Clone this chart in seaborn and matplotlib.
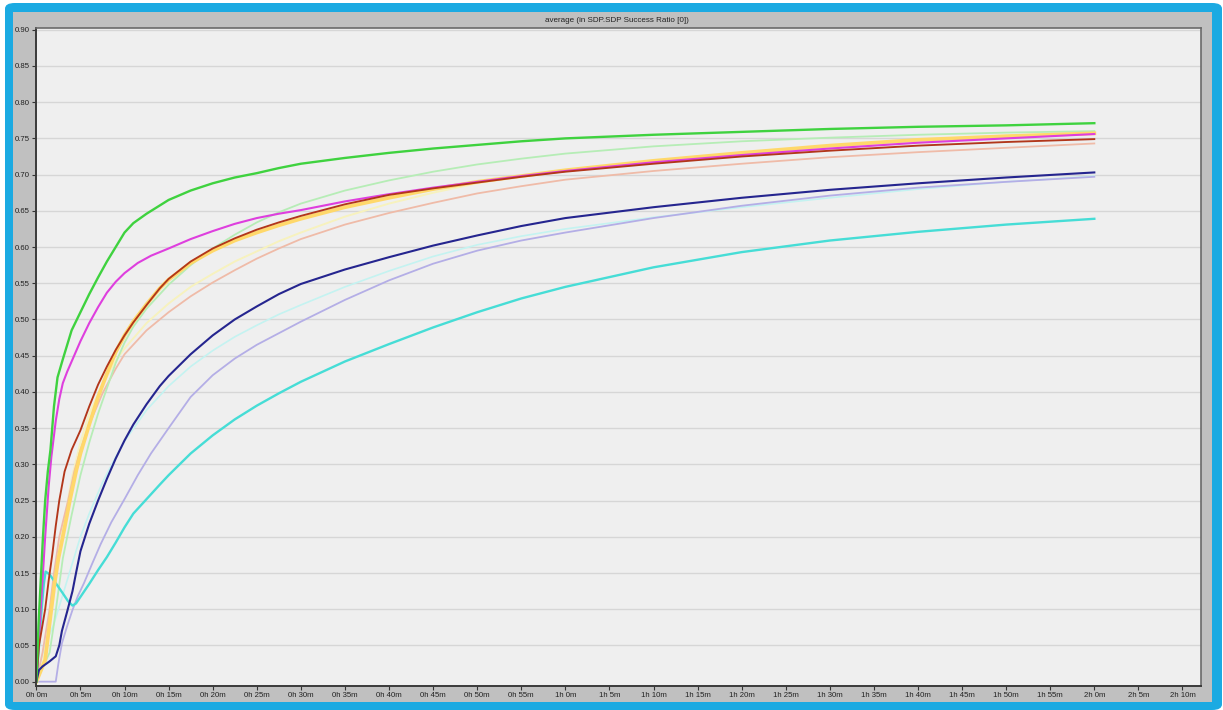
import numpy as np
import pandas as pd
import matplotlib
matplotlib.use("Agg")
import matplotlib.pyplot as plt
from matplotlib.patches import FancyBboxPatch, Rectangle
import seaborn as sns

# ---------------- data (minutes, ratio) ----------------
green_t = [0, 0.25, 0.5, 0.75, 1, 1.3, 1.6, 2, 2.4, 3, 3.5, 4, 5, 6, 7, 8, 9, 10, 11, 12.5, 15, 17.5, 20, 22.5, 25, 27.5, 30, 35, 40, 45, 50, 55, 60, 70, 80, 90, 100, 110, 120]
green_v = [0, 0.08, 0.14, 0.20, 0.25, 0.29, 0.32, 0.38, 0.42, 0.445, 0.465, 0.485, 0.51, 0.535, 0.558, 0.58, 0.60, 0.62, 0.633, 0.646, 0.665, 0.678, 0.688, 0.696, 0.702, 0.709, 0.715, 0.723, 0.730, 0.736, 0.741, 0.746, 0.750, 0.755, 0.759, 0.763, 0.766, 0.768, 0.771]

magenta_t = [0, 0.5, 1, 1.4, 1.7, 2.2, 2.6, 3, 3.5, 4, 5, 6, 7, 8, 9, 10, 11.5, 13, 15, 17.5, 20, 22.5, 25, 27.5, 30, 35, 40, 45, 50, 55, 60, 70, 80, 90, 100, 110, 120]
magenta_v = [0, 0.10, 0.20, 0.27, 0.31, 0.36, 0.39, 0.412, 0.428, 0.442, 0.47, 0.495, 0.517, 0.537, 0.552, 0.564, 0.578, 0.588, 0.598, 0.611, 0.622, 0.632, 0.640, 0.646, 0.651, 0.663, 0.673, 0.682, 0.690, 0.698, 0.705, 0.717, 0.727, 0.736, 0.744, 0.750, 0.756]

orange_t = [0, 1, 1.3, 1.6, 2, 2.5, 3, 3.8, 4.5, 5, 6, 7, 8, 9, 10, 11, 12.5, 14, 15, 17.5, 20, 22.5, 25, 27.5, 30, 35, 40, 45, 50, 55, 60, 70, 80, 90, 100, 110, 120]
orange_v = [0, 0.03, 0.06, 0.09, 0.13, 0.17, 0.20, 0.25, 0.29, 0.315, 0.355, 0.393, 0.425, 0.455, 0.478, 0.497, 0.521, 0.543, 0.555, 0.578, 0.595, 0.609, 0.620, 0.630, 0.639, 0.655, 0.668, 0.680, 0.690, 0.698, 0.706, 0.719, 0.730, 0.740, 0.748, 0.753, 0.757]

red_t = [0, 0.3, 1, 1.4, 1.8, 2.2, 2.6, 3.2, 4, 5, 6, 7, 8, 9, 10, 11, 12.5, 14, 15, 17.5, 20, 22.5, 25, 27.5, 30, 35, 40, 45, 50, 55, 60, 70, 80, 90, 100, 110, 120]
red_v = [0, 0.05, 0.10, 0.14, 0.175, 0.215, 0.25, 0.29, 0.32, 0.347, 0.38, 0.41, 0.435, 0.458, 0.478, 0.496, 0.52, 0.543, 0.556, 0.58, 0.598, 0.612, 0.624, 0.634, 0.643, 0.659, 0.672, 0.681, 0.689, 0.697, 0.704, 0.715, 0.725, 0.733, 0.740, 0.745, 0.749]

palegreen_t = [0, 1.5, 2, 2.5, 3, 3.5, 4, 5, 6, 7, 8, 9, 10, 11, 12.5, 15, 17.5, 20, 22.5, 25, 27.5, 30, 35, 40, 45, 50, 55, 60, 70, 80, 90, 100, 110, 120]
palegreen_v = [0, 0.04, 0.08, 0.125, 0.17, 0.20, 0.23, 0.285, 0.33, 0.37, 0.405, 0.44, 0.468, 0.49, 0.515, 0.548, 0.575, 0.598, 0.617, 0.634, 0.648, 0.660, 0.678, 0.692, 0.704, 0.714, 0.722, 0.729, 0.739, 0.746, 0.751, 0.755, 0.758, 0.760]

paleyellow_t = [0, 0.8, 1.5, 2, 2.5, 3, 4, 5, 6, 7.5, 9, 10, 12.5, 15, 17.5, 20, 22.5, 25, 27.5, 30, 35, 40, 45, 50, 55, 60, 70, 80, 90, 100, 110, 120]
paleyellow_v = [0, 0.03, 0.08, 0.12, 0.17, 0.21, 0.28, 0.33, 0.37, 0.41, 0.443, 0.46, 0.495, 0.522, 0.545, 0.563, 0.58, 0.594, 0.608, 0.62, 0.642, 0.660, 0.675, 0.688, 0.698, 0.706, 0.719, 0.730, 0.740, 0.748, 0.754, 0.758]

salmon_t = [0, 0.7, 1.5, 2, 2.6, 3.6, 4.3, 5, 6, 7.5, 9, 10, 12.5, 15, 17.5, 20, 22.5, 25, 27.5, 30, 35, 40, 45, 50, 55, 60, 70, 80, 90, 100, 110, 120]
salmon_v = [0, 0.04, 0.10, 0.15, 0.20, 0.25, 0.29, 0.32, 0.355, 0.398, 0.432, 0.452, 0.485, 0.51, 0.532, 0.551, 0.568, 0.584, 0.598, 0.611, 0.631, 0.647, 0.661, 0.674, 0.684, 0.693, 0.705, 0.715, 0.724, 0.731, 0.737, 0.743]

navy_t = [0, 0.3, 0.7, 1.5, 2.2, 2.6, 2.9, 3.5, 4.1, 4.5, 5, 6, 7, 8, 9, 10, 11, 12.5, 14, 15, 17.5, 20, 22.5, 25, 27.5, 30, 35, 40, 45, 50, 55, 60, 70, 80, 90, 100, 110, 120]
navy_v = [0, 0.016, 0.021, 0.028, 0.035, 0.05, 0.07, 0.097, 0.125, 0.15, 0.18, 0.218, 0.25, 0.28, 0.308, 0.333, 0.355, 0.383, 0.408, 0.422, 0.452, 0.478, 0.50, 0.518, 0.535, 0.549, 0.569, 0.586, 0.602, 0.616, 0.629, 0.640, 0.655, 0.668, 0.679, 0.688, 0.696, 0.703]

palecyan_t = [0, 0.5, 1, 2, 3, 4, 5, 6, 7.5, 9, 10, 12.5, 15, 17.5, 20, 22.5, 25, 27.5, 30, 35, 40, 45, 50, 55, 60, 70, 80, 90, 100, 110, 120]
palecyan_v = [0, 0.03, 0.05, 0.08, 0.12, 0.16, 0.20, 0.232, 0.275, 0.31, 0.332, 0.375, 0.408, 0.435, 0.457, 0.476, 0.492, 0.507, 0.52, 0.545, 0.567, 0.587, 0.603, 0.615, 0.625, 0.641, 0.655, 0.668, 0.680, 0.690, 0.698]

lavender_t = [0, 2.2, 2.5, 2.9, 3.5, 4.1, 4.7, 5.4, 6.3, 7.3, 8.5, 10, 11.5, 13, 15, 17.5, 20, 22.5, 25, 27.5, 30, 35, 40, 45, 50, 55, 60, 70, 80, 90, 100, 110, 120]
lavender_v = [0, 0, 0.025, 0.053, 0.077, 0.099, 0.118, 0.136, 0.162, 0.19, 0.22, 0.252, 0.285, 0.315, 0.35, 0.393, 0.423, 0.446, 0.465, 0.481, 0.497, 0.527, 0.554, 0.577, 0.595, 0.609, 0.620, 0.640, 0.657, 0.671, 0.682, 0.690, 0.697]

turq_t = [0, 0.3, 0.6, 0.85, 1.05, 1.5, 2.2, 3, 3.6, 4.1, 4.5, 5, 6, 7, 8, 9, 10, 11, 12.5, 14, 15, 17.5, 20, 22.5, 25, 27.5, 30, 35, 40, 45, 50, 55, 60, 70, 80, 90, 100, 110, 120]
turq_v = [0, 0.05, 0.10, 0.135, 0.152, 0.148, 0.136, 0.122, 0.111, 0.105, 0.108, 0.117, 0.135, 0.154, 0.172, 0.192, 0.213, 0.232, 0.252, 0.272, 0.285, 0.315, 0.34, 0.362, 0.381, 0.398, 0.414, 0.442, 0.466, 0.489, 0.51, 0.529, 0.545, 0.572, 0.593, 0.609, 0.621, 0.631, 0.639]

x_ticks_min = list(range(0, 135, 5))
x_tick_labels = [f"{m // 60}h {m % 60}m" for m in x_ticks_min]
y_ticks = [round(0.05 * i, 2) for i in range(19)]
title = "average (in SDP.SDP Success Ratio [0])"

# ---------------- figure ----------------
W, H = 1223, 710
fig = plt.figure(figsize=(W / 100, H / 100), dpi=100, facecolor="white")

def px(x0, y0, x1, y1):
    return (x0 / W, 1 - y1 / H, (x1 - x0) / W, (y1 - y0) / H)

bx, by, bw, bh = px(5, 3, 1222, 710)
fig.patches.append(FancyBboxPatch((bx, by), bw, bh, boxstyle="round,pad=0,rounding_size=0.008",
                                  transform=fig.transFigure, facecolor="#1BAAE2", edgecolor="none", zorder=-3))
gx, gy, gw, gh = px(13, 12, 1212, 702)
fig.patches.append(Rectangle((gx, gy), gw, gh, transform=fig.transFigure,
                             facecolor="#C0C0C0", edgecolor="none", zorder=-2))

ax = fig.add_axes(px(36, 28, 1201, 686))
ax.set_zorder(5)
ax.set_facecolor("#EFEFEF")

series = [
    ("pale cyan", palecyan_t, palecyan_v, "#C4F3F1", 1.2),
    ("pale yellow", paleyellow_t, paleyellow_v, "#F7F2BE", 1.4),
    ("salmon", salmon_t, salmon_v, "#EFBBA8", 1.3),
    ("pale green", palegreen_t, palegreen_v, "#B6EDB6", 1.3),
    ("lavender", lavender_t, lavender_v, "#B4AEE6", 1.3),
    ("turquoise", turq_t, turq_v, "#46DDD6", 1.7),
    ("orange", orange_t, orange_v, "#FFD86A", 2.7),
    ("magenta", magenta_t, magenta_v, "#DE3FDE", 1.5),
    ("red", red_t, red_v, "#B2361A", 1.35),
    ("navy", navy_t, navy_v, "#25258F", 1.5),
    ("green", green_t, green_v, "#3FD23F", 1.7),
]

for name, t, v, col, lw in series:
    df = pd.DataFrame({"t": t, "v": v})
    sns.lineplot(data=df, x="t", y="v", ax=ax, color=col, linewidth=lw,
                 estimator=None, sort=False, legend=False)

ax.set_xlim(-0.04, 132.1)
ax.set_ylim(-0.006, 0.9024)
ax.set_xticks(x_ticks_min)
ax.set_xticklabels(x_tick_labels)
ax.set_yticks(y_ticks)
ax.set_yticklabels([f"{y:.2f}" for y in y_ticks])
ax.set_xlabel("")
ax.set_ylabel("")
ax.grid(False)
for y in y_ticks[1:]:
    ax.axhline(y, color="#D6D6D6", linewidth=1.0, zorder=0.5)

fam = ["Liberation Sans Narrow", "Liberation Sans", "DejaVu Sans"]
ax.tick_params(axis="both", which="major", length=3, width=0.8, color="#333333",
               labelsize=5.6, labelcolor="#222222", pad=1.5)
for lab in ax.get_xticklabels() + ax.get_yticklabels():
    lab.set_family(fam)

for side in ["top", "right"]:
    ax.spines[side].set_color("#6A6A6A")
    ax.spines[side].set_linewidth(1.2)
for side in ["left", "bottom"]:
    ax.spines[side].set_color("#3A3A3A")
    ax.spines[side].set_linewidth(1.4)

fig.text(617 / W, 1 - 20 / H, title, ha="center", va="center", fontsize=5.8,
         color="#222222", family=fam, zorder=6)

fig.savefig("out.png", dpi=100, facecolor=fig.get_facecolor())
